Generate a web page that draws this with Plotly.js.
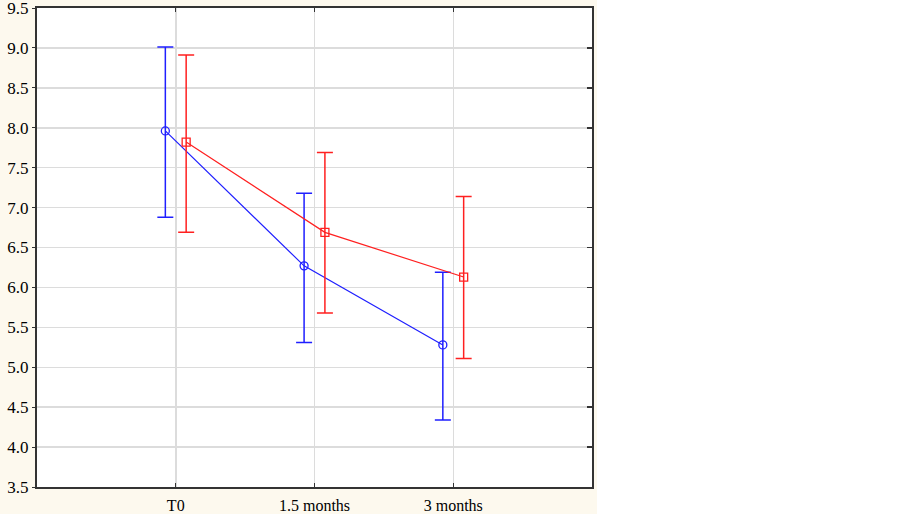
<!DOCTYPE html>
<html>
<head>
<meta charset="utf-8">
<script src="https://cdn.plot.ly/plotly-3.0.1.min.js"></script>
<style>
  html, body { margin: 0; padding: 0; background: #ffffff; }
  #myPlot { width: 597px; height: 514px; }
</style>
</head>
<body>
<div id="myPlot"></div>
<script>
var times = ["T0", "1.5 months", "3 months"];
var timePos = [0, 1, 2];

var blueMean = [7.96, 6.27, 5.28];
var blueUpper = [9.01, 7.18, 6.19];
var blueLower = [6.88, 5.31, 4.34];

var redMean = [7.82, 6.69, 6.13];
var redUpper = [8.91, 7.69, 7.14];
var redLower = [6.69, 5.68, 5.11];

var offset = 0.075;

function errUp(m, u) { return m.map(function (v, i) { return u[i] - v; }); }
function errDown(m, l) { return m.map(function (v, i) { return v - l[i]; }); }

var blue = {
  x: timePos.map(function (p) { return p - offset; }),
  y: blueMean,
  mode: "lines+markers",
  line: {color: "#1f1fff", width: 1.2},
  marker: {symbol: "circle-open", size: 8, color: "#1f1fff", line: {width: 1.3}},
  error_y: {type: "data", symmetric: false, array: errUp(blueMean, blueUpper),
            arrayminus: errDown(blueMean, blueLower), color: "#1f1fff", thickness: 1.5, width: 8},
  showlegend: false
};

var red = {
  x: timePos.map(function (p) { return p + offset; }),
  y: redMean,
  mode: "lines+markers",
  line: {color: "#ff2020", width: 1.2},
  marker: {symbol: "square-open", size: 8, color: "#ff2020", line: {width: 1.3}},
  error_y: {type: "data", symmetric: false, array: errUp(redMean, redUpper),
            arrayminus: errDown(redMean, redLower), color: "#ff2020", thickness: 1.5, width: 8},
  showlegend: false
};

// invisible trace so the right-hand axis (inward ticks only) gets drawn
var rightTicks = {x: [0], y: [5], yaxis: "y2", mode: "markers", marker: {opacity: 0},
                  showlegend: false, hoverinfo: "skip"};

var layout = {
  width: 597, height: 514,
  margin: {l: 37, r: 5, t: 8, b: 27},
  paper_bgcolor: "#fdf9ee",
  plot_bgcolor: "#ffffff",
  font: {family: "Liberation Serif, Times New Roman, serif", size: 16, color: "#000000"},
  xaxis: {
    range: [-1, 3], tickvals: timePos, ticktext: times,
    showgrid: true, gridcolor: "#dcdcdc", gridwidth: 1.5,
    zeroline: false, showline: true, linecolor: "#333333", linewidth: 2, mirror: "ticks",
    ticks: "inside", ticklen: 4, tickcolor: "#333333", ticklabelstandoff: 3
  },
  yaxis: {
    range: [3.5, 9.5], dtick: 0.5, tickformat: ".1f", tickfont: {size: 17},
    ticklabeloverflow: "allow",
    showgrid: true, gridcolor: "#dcdcdc", gridwidth: 1.5,
    zeroline: false, showline: true, linecolor: "#333333", linewidth: 2, mirror: true,
    ticks: "outside", ticklen: 3, tickcolor: "#333333"
  },
  yaxis2: {
    overlaying: "y", side: "right", anchor: "x", range: [3.5, 9.5], dtick: 0.5,
    showgrid: false, zeroline: false, showline: false, showticklabels: false,
    ticks: "inside", ticklen: 5, tickwidth: 1.5, tickcolor: "#333333"
  }
};

Plotly.newPlot("myPlot", [blue, red, rightTicks], layout, {displayModeBar: false, staticPlot: true});
</script>
</body>
</html>
